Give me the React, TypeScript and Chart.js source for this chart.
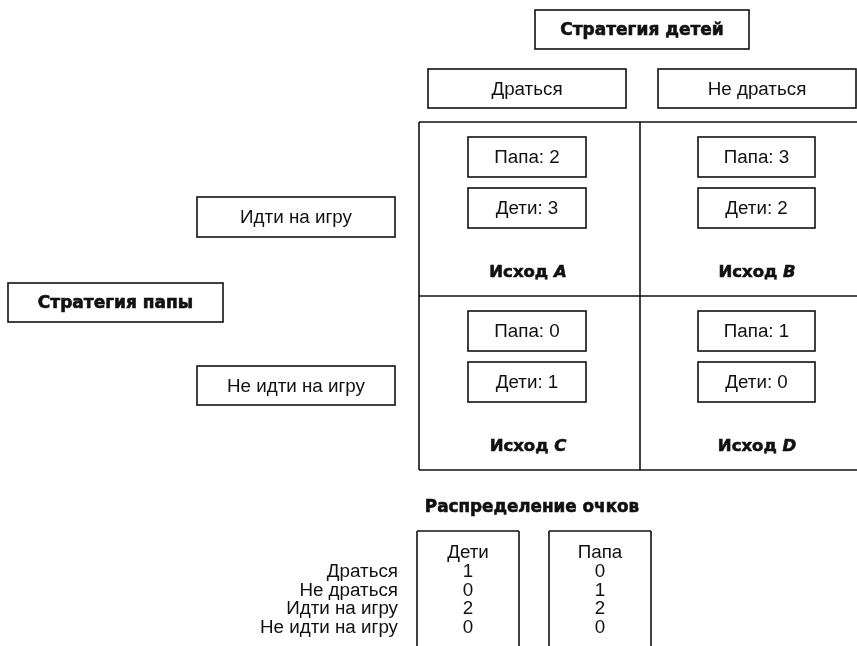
import React, { useEffect, useRef } from "react";
import { Chart, registerables } from "chart.js";

Chart.register(...registerables);

// ---- data ----
const kidsStrategies = ["Драться", "Не драться"];
const papaStrategies = ["Идти на игру", "Не идти на игру"];
const outcomes = ["A", "B", "C", "D"];
const papaPayoff = [2, 3, 0, 1];
const kidsPayoff = [3, 2, 1, 0];
const pointRows = ["Драться", "Не драться", "Идти на игру", "Не идти на игру"];
const kidsPoints = [1, 0, 2, 0];
const papaPoints = [0, 1, 2, 0];
const titleKids = "Стратегия детей";
const titlePapa = "Стратегия папы";
const titlePoints = "Распределение очков";
const labelPapa = "Папа";
const labelKids = "Дети";
const outcomeWord = "Исход";

const W = 857;
const H = 646;
const FONT = '"Liberation Sans", Arial, sans-serif';
const BFONT = '"DejaVu Sans", "Liberation Sans", sans-serif';
const INK = "#111111";

const diagramPlugin = {
  id: "gameDiagram",
  afterDraw(chart: any) {
    const { ctx } = chart;
    const sx = chart.scales.x;
    const sy = chart.scales.y;
    const X = (v: number) => sx.getPixelForValue(v);
    const Y = (v: number) => sy.getPixelForValue(v);
    ctx.save();
    ctx.strokeStyle = INK;
    ctx.fillStyle = INK;
    ctx.lineWidth = 1.6;
    const line = (x1: number, y1: number, x2: number, y2: number) => {
      ctx.beginPath();
      ctx.moveTo(X(x1), Y(y1));
      ctx.lineTo(X(x2), Y(y2));
      ctx.stroke();
    };
    const box = (x1: number, y1: number, x2: number, y2: number) => {
      ctx.strokeRect(X(x1), Y(y1), X(x2) - X(x1), Y(y2) - Y(y1));
    };
    const fillHeavy = (s: string, px: number, py: number, heavy: boolean) => {
      ctx.fillText(s, px, py);
      if (heavy) {
        ctx.save();
        ctx.lineWidth = 0.6;
        ctx.strokeText(s, px, py);
        ctx.restore();
      }
    };
    const text = (s: string, x: number, y: number, font: string, align: CanvasTextAlign = "center", heavy = false) => {
      ctx.font = font;
      ctx.textAlign = align;
      ctx.textBaseline = "middle";
      fillHeavy(s, X(x), Y(y), heavy);
    };
    const boxText = (s: string, x1: number, y1: number, x2: number, y2: number, font: string, heavy = false) => {
      box(x1, y1, x2, y2);
      text(s, (x1 + x2) / 2, (y1 + y2) / 2 + 1, font, "center", heavy);
    };
    const REG = `18.8px ${FONT}`;
    const BOLD = `bold 17px ${BFONT}`;

    // top header
    boxText(titleKids, 535, 10, 749, 49, BOLD, true);
    boxText(kidsStrategies[0], 428, 69, 626, 108, REG);
    boxText(kidsStrategies[1], 658, 69, 856, 108, REG);

    // left header
    boxText(titlePapa, 8, 283, 223, 322, BOLD, true);
    boxText(papaStrategies[0], 197, 197, 395, 237, REG);
    boxText(papaStrategies[1], 197, 366, 395, 405, REG);

    // grid
    const gx = [419, 640, 857];
    const gy = [122, 296, 470];
    line(gx[0], gy[0], gx[2], gy[0]);
    line(gx[0], gy[1], gx[2], gy[1]);
    line(gx[0], gy[2], gx[2], gy[2]);
    line(gx[0], gy[0], gx[0], gy[2]);
    line(gx[1], gy[0], gx[1], gy[2]);

    const colBox = [
      [468, 586],
      [698, 815],
    ];
    const colCenter = [528, 757];
    for (let i = 0; i < outcomes.length; i++) {
      const c = i % 2;
      const r = Math.floor(i / 2);
      const oy = gy[r];
      const [bx1, bx2] = colBox[c];
      boxText(`${labelPapa}: ${papaPayoff[i]}`, bx1, oy + 15, bx2, oy + 55, REG);
      boxText(`${labelKids}: ${kidsPayoff[i]}`, bx1, oy + 66, bx2, oy + 106, REG);
      // outcome label: bold word + bold italic letter
      const f1 = `bold 16.5px ${BFONT}`;
      const f2 = `italic bold 16.5px ${BFONT}`;
      ctx.font = f1;
      const w1 = ctx.measureText(outcomeWord + " ").width;
      ctx.font = f2;
      const w2 = ctx.measureText(outcomes[i]).width;
      const startPx = X(colCenter[c]) - (w1 + w2) / 2;
      const yy = Y(oy + 151);
      ctx.textBaseline = "middle";
      ctx.textAlign = "left";
      ctx.font = f1;
      fillHeavy(outcomeWord + " ", startPx, yy, true);
      ctx.font = f2;
      fillHeavy(outcomes[i], startPx + w1, yy, true);
    }

    // points table
    text(titlePoints, 532, 508, `bold 16.8px ${BFONT}`, "center", true);
    const TF = `18.8px ${FONT}`;
    const tables = [
      { x1: 417, x2: 519, title: labelKids, vals: kidsPoints },
      { x1: 549, x2: 651, title: labelPapa, vals: papaPoints },
    ];
    const rowY = (k: number) => 572 + k * 18.5;
    for (const t of tables) {
      line(t.x1, 646, t.x1, 531);
      line(t.x1, 531, t.x2, 531);
      line(t.x2, 531, t.x2, 646);
      const cx = (t.x1 + t.x2) / 2;
      text(t.title, cx, 553, TF);
      t.vals.forEach((v, k) => text(String(v), cx, rowY(k), TF));
    }
    pointRows.forEach((s, k) => text(s, 398, rowY(k), TF, "right"));
    ctx.restore();
  },
};

export default function App() {
  const ref = useRef<HTMLCanvasElement | null>(null);
  useEffect(() => {
    if (!ref.current) return;
    const chart = new Chart(ref.current, {
      type: "scatter",
      data: { datasets: [{ data: [], pointRadius: 0 }] },
      options: {
        animation: false,
        responsive: false,
        maintainAspectRatio: false,
        layout: { padding: 0 },
        plugins: { legend: { display: false }, tooltip: { enabled: false } },
        scales: {
          x: { type: "linear", min: 0, max: W, display: false },
          y: { type: "linear", min: 0, max: H, reverse: true, display: false },
        },
      },
      plugins: [diagramPlugin],
    });
    return () => chart.destroy();
  }, []);
  return (
    <div style={{ position: "fixed", left: 0, top: 0, width: W, height: H, background: "#fff" }}>
      <canvas ref={ref} width={W} height={H} style={{ width: W, height: H, display: "block" }} />
    </div>
  );
}
